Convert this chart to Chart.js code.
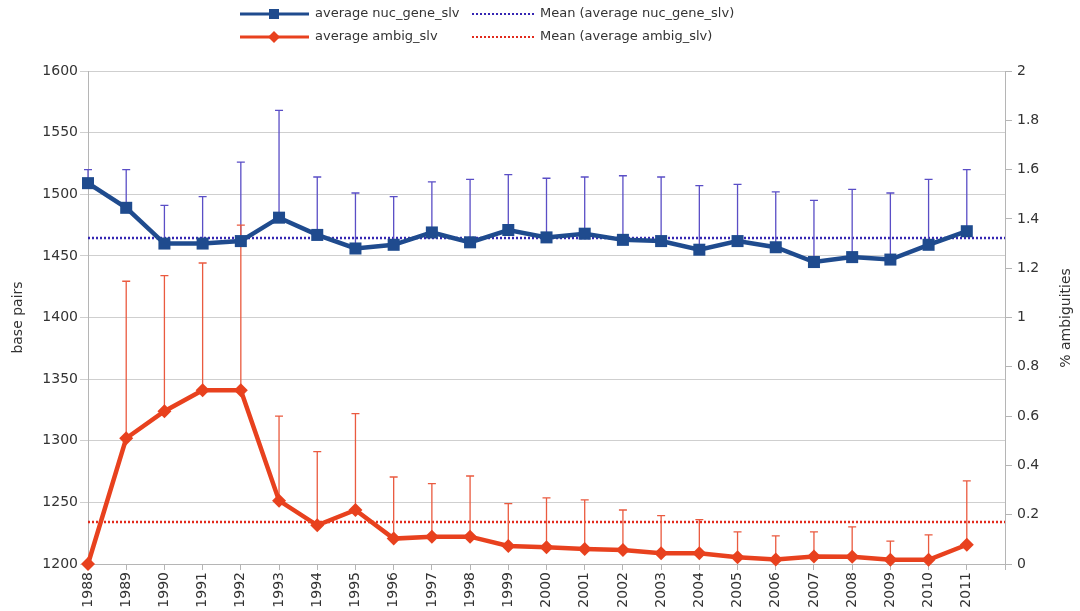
<!DOCTYPE html>
<html>
<head>
<meta charset="utf-8">
<script src="https://cdn.jsdelivr.net/npm/chart.js@4/dist/chart.umd.min.js"></script>
<style>
  html, body { margin: 0; padding: 0; background: #fff; }
  #wrap { width: 1080px; height: 611px; }
</style>
</head>
<body>
<div id="wrap"><canvas id="chart" width="1080" height="611"></canvas></div>
<script>
// Data
const years = [1988, 1989, 1990, 1991, 1992, 1993, 1994, 1995, 1996, 1997, 1998, 1999,
  2000, 2001, 2002, 2003, 2004, 2005, 2006, 2007, 2008, 2009, 2010, 2011];

const nucGene = [1509, 1489, 1460, 1460, 1462, 1481, 1467, 1456, 1459, 1469, 1461, 1471,
  1465, 1468, 1463, 1462, 1455, 1462, 1457, 1445, 1449, 1447, 1459, 1470];
const nucGeneUpper = [1520, 1520, 1491, 1498, 1526, 1568, 1514, 1501, 1498, 1510, 1512, 1516,
  1513, 1514, 1515, 1514, 1507, 1508, 1502, 1495, 1504, 1501, 1512, 1520];
const nucGeneMean = 1464.5;

const ambig = [0, 0.51, 0.62, 0.705, 0.705, 0.257, 0.157, 0.219, 0.103, 0.111, 0.111, 0.073,
  0.068, 0.061, 0.057, 0.044, 0.044, 0.027, 0.018, 0.03, 0.029, 0.017, 0.017, 0.078];
const ambigUpper = [null, 1.147, 1.17, 1.221, 1.375, 0.6, 0.456, 0.61, 0.353, 0.326, 0.357, 0.245,
  0.268, 0.26, 0.219, 0.196, 0.18, 0.13, 0.114, 0.13, 0.151, 0.093, 0.118, 0.337];
const ambigMean = 0.17;

const FONT = "'DejaVu Sans', sans-serif";
const TEXT = "#333";

// error bars (upper only) + mean lines, drawn under the series
const extras = {
  id: "extras",
  beforeDatasetsDraw(chart) {
    const ctx = chart.ctx;
    const area = chart.chartArea;
    ctx.save();
    chart.data.datasets.forEach((ds, di) => {
      const meta = chart.getDatasetMeta(di);
      const ys = chart.scales[ds.yAxisID];
      // mean line
      const my = ys.getPixelForValue(ds.mean);
      ctx.strokeStyle = ds.meanColor;
      ctx.lineWidth = 2.5;
      ctx.setLineDash([2, 2]);
      ctx.beginPath();
      ctx.moveTo(area.left, my);
      ctx.lineTo(area.right, my);
      ctx.stroke();
      ctx.setLineDash([]);
      // error bars
      ctx.strokeStyle = ds.errColor;
      ctx.lineWidth = 1.3;
      ds.upper.forEach((u, i) => {
        if (u == null) return;
        const pt = meta.data[i];
        const ty = ys.getPixelForValue(u);
        ctx.beginPath();
        ctx.moveTo(pt.x, pt.y);
        ctx.lineTo(pt.x, ty);
        ctx.moveTo(pt.x - 4, ty);
        ctx.lineTo(pt.x + 4, ty);
        ctx.stroke();
      });
    });
    ctx.restore();
  },
  afterDraw(chart) {
    const ctx = chart.ctx;
    ctx.save();
    ctx.font = "13px " + FONT;
    ctx.fillStyle = TEXT;
    ctx.textBaseline = "middle";
    const ds = chart.data.datasets;
    const rows = [14, 37];
    ds.forEach((d, i) => {
      const y = rows[i];
      // series entry
      ctx.strokeStyle = d.borderColor;
      ctx.lineWidth = 3;
      ctx.beginPath();
      ctx.moveTo(240, y);
      ctx.lineTo(309, y);
      ctx.stroke();
      ctx.fillStyle = d.backgroundColor;
      ctx.beginPath();
      if (d.pointStyle === "rect") {
        ctx.rect(269, y - 5, 10, 10);
      } else {
        ctx.moveTo(274, y - 6); ctx.lineTo(280, y); ctx.lineTo(274, y + 6); ctx.lineTo(268, y);
        ctx.closePath();
      }
      ctx.fill();
      ctx.fillStyle = TEXT;
      ctx.textAlign = "left";
      ctx.fillText(d.label, 315, y);
      // mean entry
      ctx.strokeStyle = d.meanColor;
      ctx.lineWidth = 2;
      ctx.setLineDash([2, 2]);
      ctx.beginPath();
      ctx.moveTo(472, y);
      ctx.lineTo(535, y);
      ctx.stroke();
      ctx.setLineDash([]);
      ctx.fillText("Mean (" + d.label + ")", 540, y);
    });
    // right axis title, reading bottom-to-top
    ctx.font = "14px " + FONT;
    ctx.translate(1066, 318);
    ctx.rotate(-Math.PI / 2);
    ctx.textAlign = "center";
    ctx.fillText("% ambiguities", 0, 0);
    ctx.restore();
  }
};

new Chart(document.getElementById("chart"), {
  type: "line",
  data: {
    datasets: [
      {
        label: "average nuc_gene_slv",
        data: years.map((y, i) => ({ x: y, y: nucGene[i] })),
        upper: nucGeneUpper,
        mean: nucGeneMean,
        yAxisID: "y",
        borderColor: "#1f4b8e",
        backgroundColor: "#1f4b8e",
        errColor: "#5a4ec6",
        meanColor: "#3526b3",
        borderWidth: 4.5,
        pointStyle: "rect",
        pointRadius: 8.5,
        pointBorderWidth: 0,
        tension: 0
      },
      {
        label: "average ambig_slv",
        data: years.map((y, i) => ({ x: y, y: ambig[i] })),
        upper: ambigUpper,
        mean: ambigMean,
        yAxisID: "y2",
        borderColor: "#e8411e",
        backgroundColor: "#e8411e",
        errColor: "#ea5a3f",
        meanColor: "#e22a1c",
        borderWidth: 4.5,
        pointStyle: "rectRot",
        pointRadius: 7,
        pointBorderWidth: 0,
        tension: 0
      }
    ]
  },
  options: {
    responsive: false,
    animation: false,
    clip: false,
    layout: { padding: { top: 71, left: 0, right: 0, bottom: 0 } },
    plugins: {
      legend: { display: false },
      tooltip: { enabled: false }
    },
    scales: {
      x: {
        type: "linear",
        min: 1988,
        max: 2012,
        afterFit: (s) => { s.height = 47; },
        border: { color: "#b5b5b5" },
        grid: { drawOnChartArea: false, tickLength: 6, color: "#b5b5b5" },
        ticks: {
          stepSize: 1,
          autoSkip: false,
          maxRotation: 90,
          minRotation: 90,
          padding: 2,
          color: TEXT,
          font: { family: FONT, size: 14 },
          callback: (v) => (v >= 2012 ? "" : String(v))
        }
      },
      y: {
        position: "left",
        min: 1200,
        max: 1600,
        afterFit: (s) => { s.width = 88; },
        border: { color: "#b5b5b5" },
        grid: { color: "#cfcfcf", tickLength: 8 },
        title: {
          display: true,
          text: "base pairs",
          color: TEXT,
          font: { family: FONT, size: 14 },
          padding: { top: 10, bottom: 0 }
        },
        ticks: {
          stepSize: 50,
          padding: 2,
          color: TEXT,
          font: { family: FONT, size: 14 },
          callback: (v) => String(v)
        }
      },
      y2: {
        position: "right",
        min: 0,
        max: 2,
        afterFit: (s) => { s.width = 75; },
        border: { color: "#b5b5b5" },
        grid: { drawOnChartArea: false, tickLength: 7, color: "#b5b5b5" },
        ticks: {
          stepSize: 0.2,
          padding: 5,
          color: TEXT,
          font: { family: FONT, size: 14 },
          callback: (v) => String(+v.toFixed(1))
        }
      }
    }
  },
  plugins: [extras]
});
</script>
</body>
</html>
